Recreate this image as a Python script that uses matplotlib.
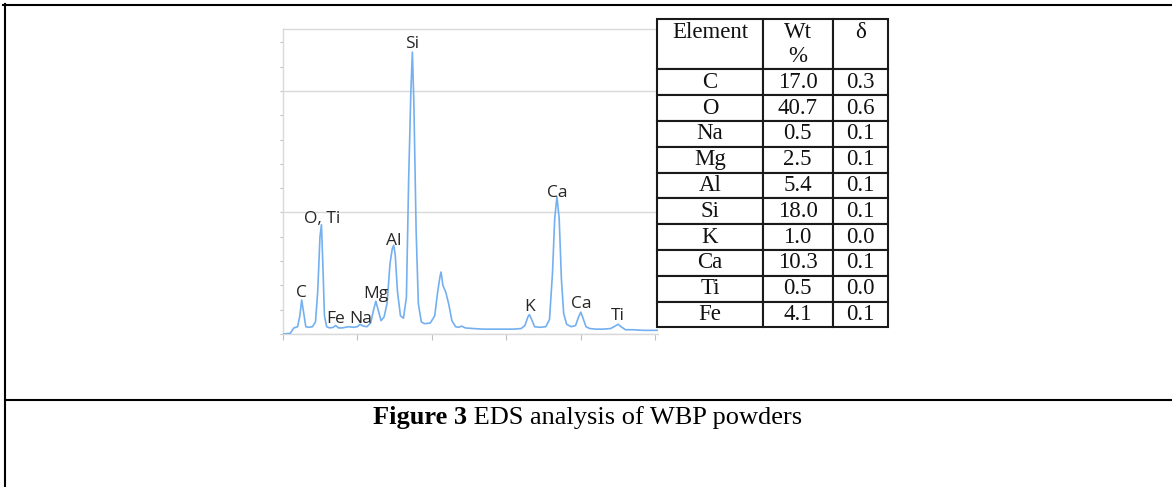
import matplotlib
matplotlib.use("Agg")
import matplotlib.pyplot as plt
from matplotlib.lines import Line2D
from matplotlib.ticker import MultipleLocator

# ---------------- data ----------------
energy_kev = [0.00, 0.10, 0.15, 0.20, 0.23, 0.255, 0.28, 0.31, 0.35, 0.40, 0.44, 0.47,
              0.50, 0.52, 0.54, 0.56, 0.59, 0.63, 0.68, 0.71, 0.75, 0.80, 0.88, 0.95,
              1.00, 1.04, 1.08, 1.13, 1.18, 1.22, 1.25, 1.28, 1.32, 1.36, 1.40, 1.44,
              1.47, 1.49, 1.51, 1.54, 1.58, 1.62, 1.66, 1.69, 1.72, 1.74, 1.76, 1.79,
              1.82, 1.86, 1.90, 1.98, 2.04, 2.08, 2.11, 2.125, 2.15, 2.19, 2.23, 2.27,
              2.32, 2.36, 2.40, 2.45, 2.55, 2.70, 2.90, 3.10, 3.20, 3.25, 3.29, 3.31,
              3.34, 3.38, 3.45, 3.53, 3.58, 3.62, 3.65, 3.68, 3.71, 3.74, 3.77, 3.81,
              3.87, 3.93, 3.97, 4.00, 4.03, 4.07, 4.12, 4.20, 4.30, 4.40, 4.46, 4.50,
              4.54, 4.60, 4.70, 4.85, 5.04]
intensity = [0.00, 0.005, 0.05, 0.06, 0.15, 0.28, 0.18, 0.06, 0.055, 0.06, 0.10, 0.35,
             0.80, 0.90, 0.55, 0.15, 0.06, 0.05, 0.055, 0.07, 0.05, 0.05, 0.06, 0.055,
             0.06, 0.08, 0.065, 0.06, 0.09, 0.20, 0.27, 0.20, 0.11, 0.14, 0.25, 0.58,
             0.70, 0.73, 0.65, 0.35, 0.15, 0.13, 0.30, 1.27, 2.00, 2.32, 1.90, 0.86,
             0.25, 0.10, 0.085, 0.09, 0.15, 0.35, 0.47, 0.51, 0.40, 0.34, 0.24, 0.11,
             0.06, 0.055, 0.065, 0.05, 0.045, 0.04, 0.04, 0.04, 0.045, 0.07, 0.14, 0.16,
             0.12, 0.06, 0.055, 0.06, 0.12, 0.50, 0.95, 1.13, 0.95, 0.45, 0.17, 0.08,
             0.06, 0.07, 0.14, 0.18, 0.13, 0.06, 0.045, 0.04, 0.04, 0.045, 0.065, 0.08,
             0.06, 0.035, 0.035, 0.03, 0.03]

peak_labels = ["C", "O, Ti", "Fe", "Na", "Mg", "Al", "Si", "K", "Ca", "Ca", "Ti"]
label_energy = [0.255, 0.53, 0.71, 1.04, 1.25, 1.487, 1.74, 3.31, 3.68, 4.00, 4.50]
label_height = [0.307, 0.91, 0.093, 0.093, 0.296, 0.733, 2.35, 0.189, 1.128, 0.214, 0.115]

table_elements = ["C", "O", "Na", "Mg", "Al", "Si", "K", "Ca", "Ti", "Fe"]
table_wt = ["17.0", "40.7", "0.5", "2.5", "5.4", "18.0", "1.0", "10.3", "0.5", "4.1"]
table_sigma = ["0.3", "0.6", "0.1", "0.1", "0.1", "0.1", "0.0", "0.1", "0.0", "0.1"]
table_headers = ["Element", "Wt\n%", "\u03b4"]

caption_bold = "Figure 3"
caption_rest = " EDS analysis of WBP powders"

# ---------------- figure ----------------
W, H = 1172, 487
fig = plt.figure(figsize=(W / 100, H / 100), dpi=100)
fig.patch.set_facecolor("white")


def fx(px):
    return px / W


def fy(py):
    return 1 - py / H


# spectrum axes
ax = fig.add_axes([fx(282.7), fy(334), fx(658.3) - fx(282.7), fy(29) - fy(334)])
ax.plot(energy_kev, intensity, color="#74b0f0", lw=1.2, zorder=3)
ax.set_xlim(0, 5.04)
ax.set_ylim(0, 2.51)
grid_col = "#d9d9d9"
for s in ["left", "top", "bottom"]:
    ax.spines[s].set_color(grid_col)
    ax.spines[s].set_linewidth(1.0)
ax.spines["right"].set_visible(False)
ax.xaxis.set_major_locator(MultipleLocator(1))
ax.yaxis.set_major_locator(MultipleLocator(1))
ax.yaxis.set_minor_locator(MultipleLocator(0.2))
ax.tick_params(axis="x", which="major", direction="out", length=4, width=0.8,
               color="#bfbfbf", labelbottom=False)
ax.tick_params(axis="y", which="both", direction="out", length=2, width=0.8,
               color="#bfbfbf", labelleft=False)
ax.yaxis.grid(True, which="major", color=grid_col, lw=1.0, zorder=1)
ax.set_axisbelow(True)

for lab, xe, yh in zip(peak_labels, label_energy, label_height):
    ax.text(xe, yh, lab, ha="center", va="baseline", fontsize=12.5,
            family="Open Sans", color="#262626", zorder=4)

# table
tax = fig.add_axes([fx(657.3), fy(327.3), fx(888.3) - fx(657.3), fy(19) - fy(327.3)])
tax.axis("off")
cell_text = [[e, w, s] for e, w, s in zip(table_elements, table_wt, table_sigma)]
tbl = tax.table(cellText=cell_text, colLabels=table_headers, cellLoc="center",
                loc="center", bbox=[0, 0, 1, 1],
                colWidths=[105.4, 70.0, 55.6])
tbl.auto_set_font_size(False)
tbl.set_fontsize(16.5)
row_h = 25.73
for (r, c), cell in tbl.get_celld().items():
    cell.set_edgecolor("#1a1a1a")
    cell.set_linewidth(1.5)
    cell.set_height(50.3 if r == 0 else row_h)
    t = cell.get_text()
    t.set_fontfamily("Liberation Serif")
    t.set_color("#111111")
    if r == 0:
        t.set_linespacing(1.2)
        if "\n" not in t.get_text():
            t.set_text(t.get_text() + "\n")

# frame lines
lw = 1.5
fig.add_artist(Line2D([fx(3), 1], [fy(5), fy(5)], color="black", lw=lw))
fig.add_artist(Line2D([fx(5), fx(5)], [fy(4), 0], color="black", lw=lw))
fig.add_artist(Line2D([fx(5), 1], [fy(399.5), fy(399.5)], color="black", lw=lw))

# caption
t1 = fig.text(fx(373), fy(424), caption_bold, ha="left", va="baseline",
              fontsize=19, fontweight="bold", family="Liberation Serif")
ann = plt.annotate(caption_rest, xy=(1, 0), xycoords=t1, ha="left", va="bottom",
                   fontsize=19, family="Liberation Serif", annotation_clip=False)

fig.savefig("out.png", dpi=100, facecolor="white")
